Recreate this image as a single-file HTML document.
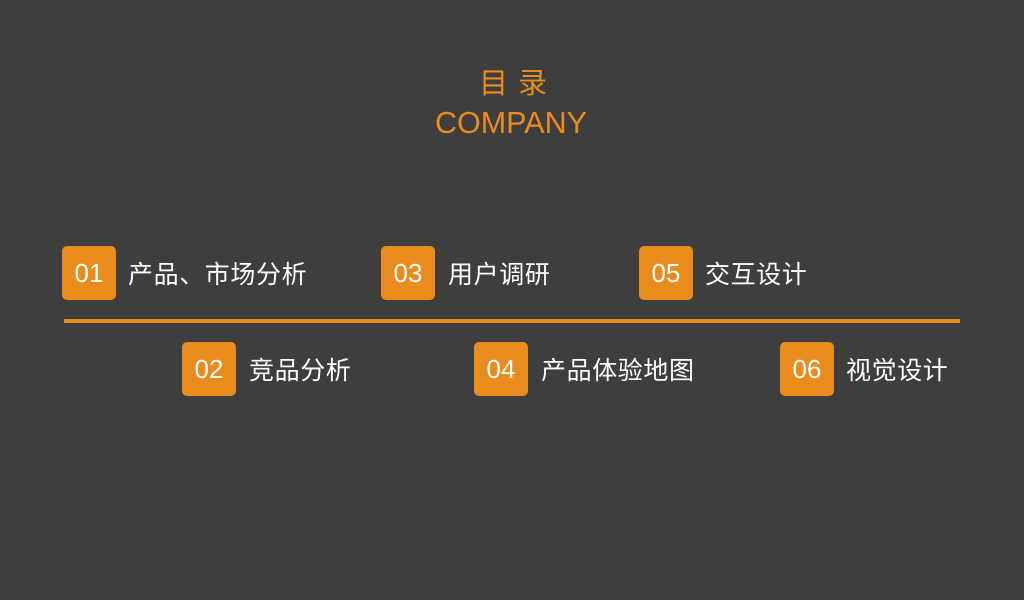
<!DOCTYPE html>
<html>
<head>
<meta charset="utf-8">
<style>
  html, body { margin:0; padding:0; }
  body { width:1024px; height:600px; background:#3e3e3e; position:relative; overflow:hidden;
         font-family:"Liberation Sans","Noto Sans CJK SC",sans-serif; }
  .t { position:absolute; color:#ea8b1d; white-space:nowrap; }
  .box { position:absolute; width:54px; height:54px; background:#ea8b1d; border-radius:5px;
         color:#fff; font-family:"Liberation Sans",sans-serif; font-size:26px; line-height:54px; text-align:center; }
  .lbl { position:absolute; color:#fff; font-size:25px; letter-spacing:0.6px; line-height:54px; white-space:nowrap;
         font-family:"Liberation Sans","Noto Sans CJK SC",sans-serif; }
  .line { position:absolute; left:64px; top:319px; width:896px; height:4px; background:#ea8b1d; }
</style>
</head>
<body>
  <div class="t" style="left:479px;top:61px;font-size:29px;line-height:40px;font-family:'Noto Sans CJK SC',sans-serif;">目</div>
  <div class="t" style="left:518px;top:61px;font-size:29px;line-height:40px;font-family:'Noto Sans CJK SC',sans-serif;">录</div>
  <div class="t" style="left:435px;top:105px;font-size:30.5px;line-height:36px;">COMPANY</div>

  <div class="box" style="left:62px;top:246px;">01</div>
  <div class="lbl" style="left:128px;top:248px;">产品、市场分析</div>

  <div class="box" style="left:381px;top:246px;">03</div>
  <div class="lbl" style="left:448px;top:248px;">用户调研</div>

  <div class="box" style="left:639px;top:246px;">05</div>
  <div class="lbl" style="left:705px;top:248px;">交互设计</div>

  <div class="line"></div>

  <div class="box" style="left:182px;top:342px;">02</div>
  <div class="lbl" style="left:249px;top:344px;">竞品分析</div>

  <div class="box" style="left:474px;top:342px;">04</div>
  <div class="lbl" style="left:541px;top:344px;">产品体验地图</div>

  <div class="box" style="left:780px;top:342px;">06</div>
  <div class="lbl" style="left:846px;top:344px;">视觉设计</div>
</body>
</html>
